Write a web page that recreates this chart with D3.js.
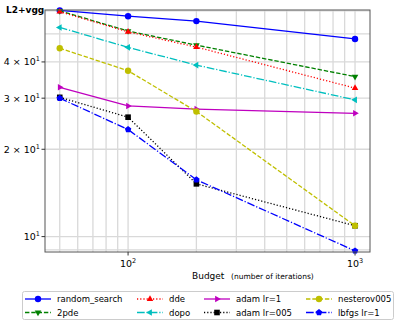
<!DOCTYPE html>
<html>
<head>
<meta charset="utf-8">
<script src="https://cdn.jsdelivr.net/npm/d3@7"></script>
<style>
body { margin: 0; background: #fff; }
text { font-family: "DejaVu Sans", sans-serif; }
</style>
</head>
<body>
<svg id="chart"></svg>
<script>
// budgets (x) and the score of every method at each budget
let budgets = [50, 100, 200, 1000]
let randomSearch = [60.2, 57.5, 55.3, 48.0]
let twoPde = [60.0, 51.1, 45.7, 35.6]
let dde = [59.6, 50.8, 45.0, 32.5]
let dopo = [52.6, 44.9, 39.0, 29.6]
let adamLr1 = [32.7, 28.2, 27.5, 26.6]
let adamLr005 = [30.2, 25.8, 15.2, 10.9]
let nesterov005 = [44.6, 37.3, 27.0, 10.9]
let lbfgsLr1 = [30.0, 23.4, 15.7, 8.93]

let yTicks = [10, 20, 30, 40]
let yTickLabels = [['10', '1'], ['2 × 10', '1'], ['3 × 10', '1'], ['4 × 10', '1']]
let xTicks = [100, 1000]
let xTickLabels = [['10', '2'], ['10', '3']]

let width = 399
let height = 326
let padLeft = 45, padRight = 370, padTop = 10, padBottom = 252

let series = [
    {name: 'random_search', values: randomSearch, color: '#0000ff', dash: null, marker: 'circle'},
    {name: '2pde', values: twoPde, color: '#008000', dash: '4.4,1.9', marker: 'tridown'},
    {name: 'dde', values: dde, color: '#ff0000', dash: '1.2,2', marker: 'triup'},
    {name: 'dopo', values: dopo, color: '#00bfbf', dash: '7.7,1.9,1.2,1.9', marker: 'trileft'},
    {name: 'adam lr=1', values: adamLr1, color: '#bf00bf', dash: null, marker: 'triright'},
    {name: 'adam lr=005', values: adamLr005, color: '#000000', dash: '1.2,2', marker: 'square'},
    {name: 'nesterov005', values: nesterov005, color: '#bfbf00', dash: '4.4,1.9', marker: 'circle'},
    {name: 'lbfgs lr=1', values: lbfgsLr1, color: '#0000ff', dash: '7.7,1.9,1.2,1.9', marker: 'pentagon'}
]
// legend is filled column by column, two rows
let legendOrder = ['random_search', '2pde', 'dde', 'dopo', 'adam lr=1', 'adam lr=005', 'nesterov005', 'lbfgs lr=1']

let svg = d3.select('#chart').attr('width', width).attr('height', height)

let xScale = d3.scaleLog().domain([43.05, 1164]).range([padLeft, padRight])
let yScale = d3.scaleLog().domain([8.85, 60.4]).range([padBottom, padTop])

let markerPath = (type) => {
    let pts
    if (type === 'circle') return d3.symbol(d3.symbolCircle, Math.PI * 3.2 * 3.2)()
    if (type === 'square') return d3.symbol(d3.symbolSquare, 5.6 * 5.6)()
    let poly = (n, rot, r) => d3.range(n).map(i => {
        let a = rot + i * 2 * Math.PI / n
        return [r * Math.cos(a), r * Math.sin(a)]
    })
    if (type === 'triup') pts = poly(3, -Math.PI / 2, 3.8)
    if (type === 'tridown') pts = poly(3, Math.PI / 2, 3.8)
    if (type === 'trileft') pts = poly(3, Math.PI, 3.8)
    if (type === 'triright') pts = poly(3, 0, 3.8)
    if (type === 'pentagon') pts = poly(5, -Math.PI / 2, 3.4)
    return 'M' + pts.map(p => p.join(',')).join('L') + 'Z'
}

// grid, major and minor
let xGrid = [50, 60, 70, 80, 90, 100, 200, 300, 400, 500, 600, 700, 800, 900, 1000]
let yGrid = [9, 10, 20, 30, 40, 50, 60]

svg.append('g').selectAll('line').data(xGrid).enter().append('line')
    .attr('x1', d => xScale(d)).attr('x2', d => xScale(d))
    .attr('y1', padTop).attr('y2', padBottom)
    .attr('stroke', '#d9d9d9').attr('stroke-width', 1.3)
svg.append('g').selectAll('line').data(yGrid).enter().append('line')
    .attr('x1', padLeft).attr('x2', padRight)
    .attr('y1', d => yScale(d)).attr('y2', d => yScale(d))
    .attr('stroke', '#d9d9d9').attr('stroke-width', 1.3)

let plot = svg.append('g')
let lineGen = d3.line().x((d, i) => xScale(budgets[i])).y(d => yScale(d))

series.forEach(s => {
    plot.append('path')
        .datum(s.values)
        .attr('d', lineGen)
        .attr('fill', 'none')
        .attr('stroke', s.color)
        .attr('stroke-width', 1.3)
        .attr('stroke-dasharray', s.dash)
    plot.selectAll(null).data(s.values).enter().append('path')
        .attr('d', markerPath(s.marker))
        .attr('transform', (d, i) => 'translate(' + xScale(budgets[i]) + ',' + yScale(d) + ')')
        .attr('fill', s.color)
})

// frame
svg.append('rect')
    .attr('x', padLeft).attr('y', padTop).attr('width', padRight - padLeft).attr('height', padBottom - padTop)
    .attr('fill', 'none').attr('stroke', '#555').attr('stroke-width', 1)

// ticks
svg.append('g').selectAll('line').data(xTicks).enter().append('line')
    .attr('x1', d => xScale(d)).attr('x2', d => xScale(d))
    .attr('y1', padBottom).attr('y2', padBottom + 3.5).attr('stroke', '#333')
svg.append('g').selectAll('line').data(yTicks).enter().append('line')
    .attr('x1', padLeft - 3.5).attr('x2', padLeft)
    .attr('y1', d => yScale(d)).attr('y2', d => yScale(d)).attr('stroke', '#333')

let xl = svg.append('g').selectAll('text').data(xTicks).enter().append('text')
    .attr('x', d => xScale(d)).attr('y', padBottom + 15)
    .attr('text-anchor', 'middle').attr('font-size', 9.5)
xl.append('tspan').text((d, i) => xTickLabels[i][0])
xl.append('tspan').attr('dy', -4).attr('font-size', 6.5).text((d, i) => xTickLabels[i][1])

let yl = svg.append('g').selectAll('text').data(yTicks).enter().append('text')
    .attr('x', padLeft - 5).attr('y', d => yScale(d) + 3.5)
    .attr('text-anchor', 'end').attr('font-size', 9.5)
yl.append('tspan').text((d, i) => yTickLabels[i][0])
yl.append('tspan').attr('dy', -4).attr('font-size', 6.5).text((d, i) => yTickLabels[i][1])

// labels
svg.append('text').attr('x', 6).attr('y', 13).attr('font-size', 9).attr('font-weight', 'bold').text('L2+vgg')
svg.append('text').attr('x', 192).attr('y', 279).attr('font-size', 9).text('Budget')
svg.append('text').attr('x', 231).attr('y', 279).attr('font-size', 7.5).text('(number of iterations)')

// legend
let lg = svg.append('g')
lg.append('rect').attr('x', 22.5).attr('y', 291.5).attr('width', 371).attr('height', 28)
    .attr('fill', '#fff').attr('stroke', '#ccc').attr('rx', 2)
let colX = [25, 137, 204, 306]
let rowY = [299, 312.5]
legendOrder.forEach((name, k) => {
    let s = series.find(d => d.name === name)
    let cx = colX[Math.floor(k / 2)], cy = rowY[k % 2]
    lg.append('line').attr('x1', cx).attr('x2', cx + 26).attr('y1', cy).attr('y2', cy)
        .attr('stroke', s.color).attr('stroke-width', 1.3).attr('stroke-dasharray', s.dash)
    lg.append('path').attr('d', markerPath(s.marker))
        .attr('transform', 'translate(' + (cx + 13) + ',' + cy + ')').attr('fill', s.color)
    lg.append('text').attr('x', cx + 32).attr('y', cy + 3).attr('font-size', 8.5).text(name)
})
</script>
</body>
</html>
